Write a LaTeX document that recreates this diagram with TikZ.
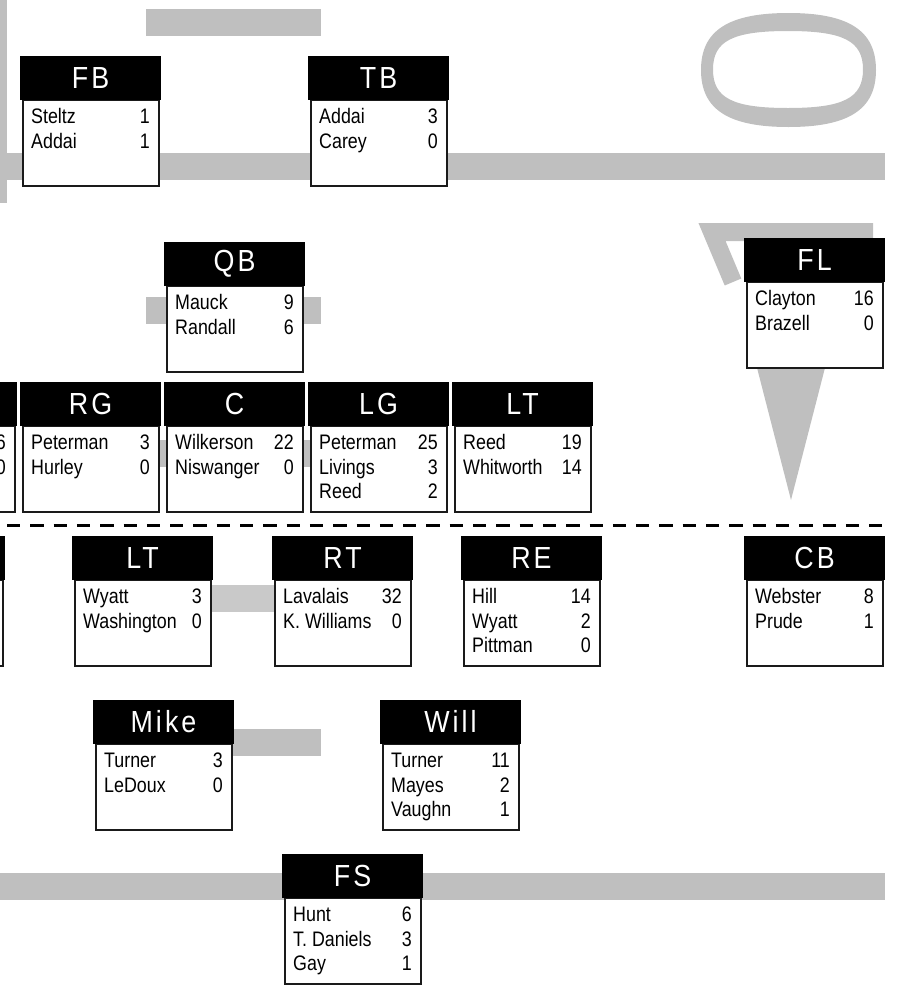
\documentclass[tikz,border=0pt]{standalone}
\usepackage{fontspec}
\setmainfont{Liberation Sans}[FakeStretch=0.85]
\newfontfamily\hdrfam{Liberation Sans}[FakeStretch=0.88, LetterSpace=10]
\usetikzlibrary{calc}
\definecolor{barg}{HTML}{BFBFBF}
\definecolor{barl}{HTML}{C9C9C9}
\definecolor{edge}{HTML}{1A1A1A}
\tikzset{
  hdr/.style={fill=black, text=white, minimum width=141pt, minimum height=43.5pt,
    inner sep=0pt, outer sep=0pt, font=\hdrfam\fontsize{30.5}{30.5}\selectfont},
  bdy/.style={draw=edge, line width=2.5pt, fill=white, minimum width=136pt,
    minimum height=86.5pt, inner sep=0pt, outer sep=0pt},
  pname/.style={anchor=base west, inner sep=0pt, font=\fontsize{21}{24}\selectfont},
  pnum/.style={anchor=base east, inner sep=0pt, font=\fontsize{21}{24}\selectfont},
  bar/.style={fill=barg},
}
\newcommand\posbox[5]{%
  \node[bdy, anchor=north west] (#1b) at (#2+2.75, #3+43.5) {};
  \node[hdr, anchor=north west] (#1) at (#2,#3) {#4};
  \foreach \pn/\pv [count=\i] in {#5} {
    \node[pname] (#1n\i) at ($(#1.south west)+(11,24.5*\i-0.5)$) {\pn};
    \node[pnum] (#1v\i) at ($(#1.south east)+(-11,24.5*\i-0.5)$) {\pv};
  }%
}
% super-ellipse-like closed curve: centre x, centre y, half width, half height, control factor
\newcommand\supell[5]{%
  (#1+#3,#2) .. controls (#1+#3,#2-#5*#4) and (#1+#5*#3,#2-#4) .. (#1,#2-#4)
  .. controls (#1-#5*#3,#2-#4) and (#1-#3,#2-#5*#4) .. (#1-#3,#2)
  .. controls (#1-#3,#2+#5*#4) and (#1-#5*#3,#2+#4) .. (#1,#2+#4)
  .. controls (#1+#5*#3,#2+#4) and (#1+#3,#2+#5*#4) .. (#1+#3,#2) -- cycle}
\begin{document}
\begin{tikzpicture}[x=1pt,y=-1pt]
\useasboundingbox (0,0) rectangle (899,994);
\clip (0,0) rectangle (899,994);
% gray decorations
\fill[bar] (0,0) rectangle (7,203);
\fill[bar] (146,9) rectangle (321,36);
\fill[bar] (0,153) rectangle (885,180);
\fill[barg, even odd rule] \supell{788.5}{70}{87.5}{57}{0.69} \supell{788}{69.5}{75}{38.5}{0.74};
\fill[bar] (146,297) rectangle (321,324);
\coordinate (h1) at (873,232);
\coordinate (h2) at (712,232);
\coordinate (h3) at (733,282);
\draw[barg, line width=18pt, miter limit=10] (h1) -- (h2) -- (h3);
\fill[bar] (755,360) -- (827,360) -- (791,500) -- cycle;
\fill[bar] (146,440) rectangle (321,467);
\fill[barl] (146,585) rectangle (321,612);
\fill[bar] (146,729) rectangle (321,756);
\fill[bar] (0,873) rectangle (885,900);
% line of scrimmage
\coordinate (los1) at (7,525);
\coordinate (los2) at (885,525);
\draw[line width=3pt, dash pattern=on 13.3pt off 10pt] (los1) -- (los2);
% offense
\posbox{fb}{20}{56}{FB}{Steltz/1, Addai/1}
\posbox{tb}{308}{56}{TB}{Addai/3, Carey/0}
\posbox{qb}{164}{242}{QB}{Mauck/9, Randall/6}
\posbox{fl}{744}{238}{FL}{Clayton/16, Brazell/0}
\posbox{rt}{-124}{382}{}{/6, /0}
\posbox{rg}{20}{382}{RG}{Peterman/3, Hurley/0}
\posbox{c}{164}{382}{C}{Wilkerson/22, Niswanger/0}
\posbox{lg}{308}{382}{LG}{Peterman/25, Livings/3, Reed/2}
\posbox{lt}{452}{382}{LT}{Reed/19, Whitworth/14}
% defense
\node[bdy, anchor=north west] (dleb) at (-136+2.75, 536+43.5) {};
\node[hdr, anchor=north west] (dle) at (-136,536) {};
\posbox{dlt}{72}{536}{LT}{Wyatt/3, Washington/0}
\posbox{drt}{272}{536}{RT}{Lavalais/32, K. Williams/0}
\posbox{dre}{461}{536}{RE}{Hill/14, Wyatt/2, Pittman/0}
\posbox{cb}{744}{536}{CB}{Webster/8, Prude/1}
\posbox{mike}{93}{700}{Mike}{Turner/3, LeDoux/0}
\posbox{will}{380}{700}{Will}{Turner/11, Mayes/2, Vaughn/1}
\posbox{fs}{282}{854}{FS}{Hunt/6, T. Daniels/3, Gay/1}
\end{tikzpicture}
\end{document}
